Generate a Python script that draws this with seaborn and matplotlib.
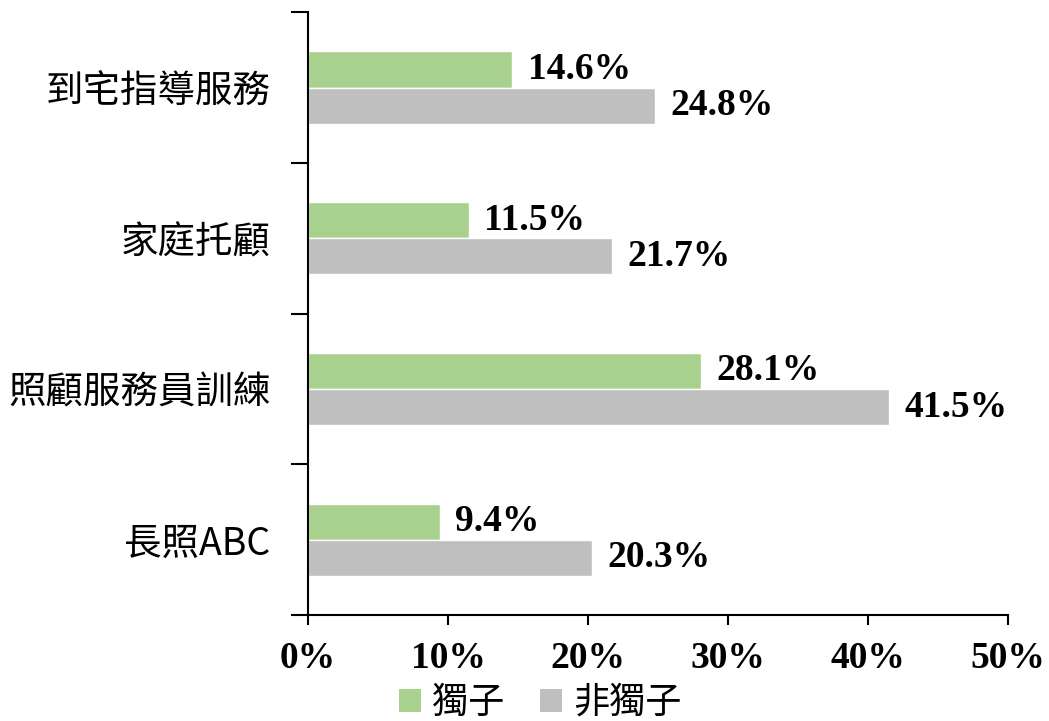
import matplotlib
matplotlib.use("Agg")
import matplotlib.pyplot as plt
from matplotlib.patches import Patch
from matplotlib.ticker import FixedLocator, FuncFormatter
import seaborn as sns
import pandas as pd

categories = ['到宅指導服務', '家庭托顧', '照顧服務員訓練', '長照ABC']
series = ['獨子', '非獨子']
only_child = [14.6, 11.5, 28.1, 9.4]
not_only_child = [24.8, 21.7, 41.5, 20.3]
x_ticks = [0, 10, 20, 30, 40, 50]
colors = ['#A9D18E', '#BFBFBF']

df = pd.DataFrame({
    'item': categories * 2,
    'group': [series[0]] * 4 + [series[1]] * 4,
    'value': only_child + not_only_child,
})

sns.set_style('white')
plt.rcParams['font.family'] = ['Noto Sans CJK TC', 'DejaVu Sans']
plt.rcParams['text.color'] = 'black'
plt.rcParams['xtick.color'] = 'black'
plt.rcParams['ytick.color'] = 'black'
plt.rcParams['xtick.labelcolor'] = 'black'
plt.rcParams['ytick.labelcolor'] = 'black'

fig = plt.figure(figsize=(10.49, 7.21), dpi=100)
ax = fig.add_axes([0.2936, 0.147, 0.6674, 0.836])

sns.barplot(data=df, y='item', x='value', hue='group', order=categories,
            hue_order=series, palette=colors, width=0.48, orient='h',
            saturation=1, legend=False, ax=ax)

ax.set_xlim(0, 50)
ax.set_ylim(len(categories) - 0.5, -0.5)
ax.set_xlabel('')
ax.set_ylabel('')

for cont in ax.containers:
    ax.bar_label(cont, fmt='%.1f%%', padding=11, fontsize=27, color='black',
                 fontweight='bold', family='Liberation Serif')

ax.xaxis.set_major_locator(FixedLocator(x_ticks))
ax.xaxis.set_major_formatter(FuncFormatter(lambda v, p: f'{v:.0f}%'))
for lbl in ax.get_xticklabels():
    lbl.set_fontfamily('Liberation Serif')
    lbl.set_fontweight('bold')
    lbl.set_fontsize(27)
ax.tick_params(axis='x', bottom=True, direction='out', length=7, width=1.5,
               color='black', pad=12)

# category boundary ticks on y axis, labels at centers
ax.yaxis.set_major_locator(FixedLocator([i - 0.5 for i in range(len(categories) + 1)]))
ax.yaxis.set_major_formatter(FuncFormatter(lambda v, p: ''))
ax.yaxis.set_minor_locator(FixedLocator(list(range(len(categories)))))
ax.set_yticklabels(categories, minor=True)
ax.tick_params(axis='y', which='major', left=True, direction='out', length=12,
               width=1.5, color='black')
ax.tick_params(axis='y', which='minor', left=True, length=0, labelsize=27, pad=27)

for s in ['top', 'right']:
    ax.spines[s].set_visible(False)
for s in ['left', 'bottom']:
    ax.spines[s].set_color('black')
    ax.spines[s].set_linewidth(1.5)

handles = [Patch(facecolor=c, edgecolor='none') for c in colors]
fig.legend(handles, series, loc='center', bbox_to_anchor=(0.515, 0.025), ncol=2,
           frameon=False, fontsize=26, handlelength=0.6, handleheight=0.6,
           handletextpad=0.3, columnspacing=1.0)

fig.savefig('out.png', dpi=100)
